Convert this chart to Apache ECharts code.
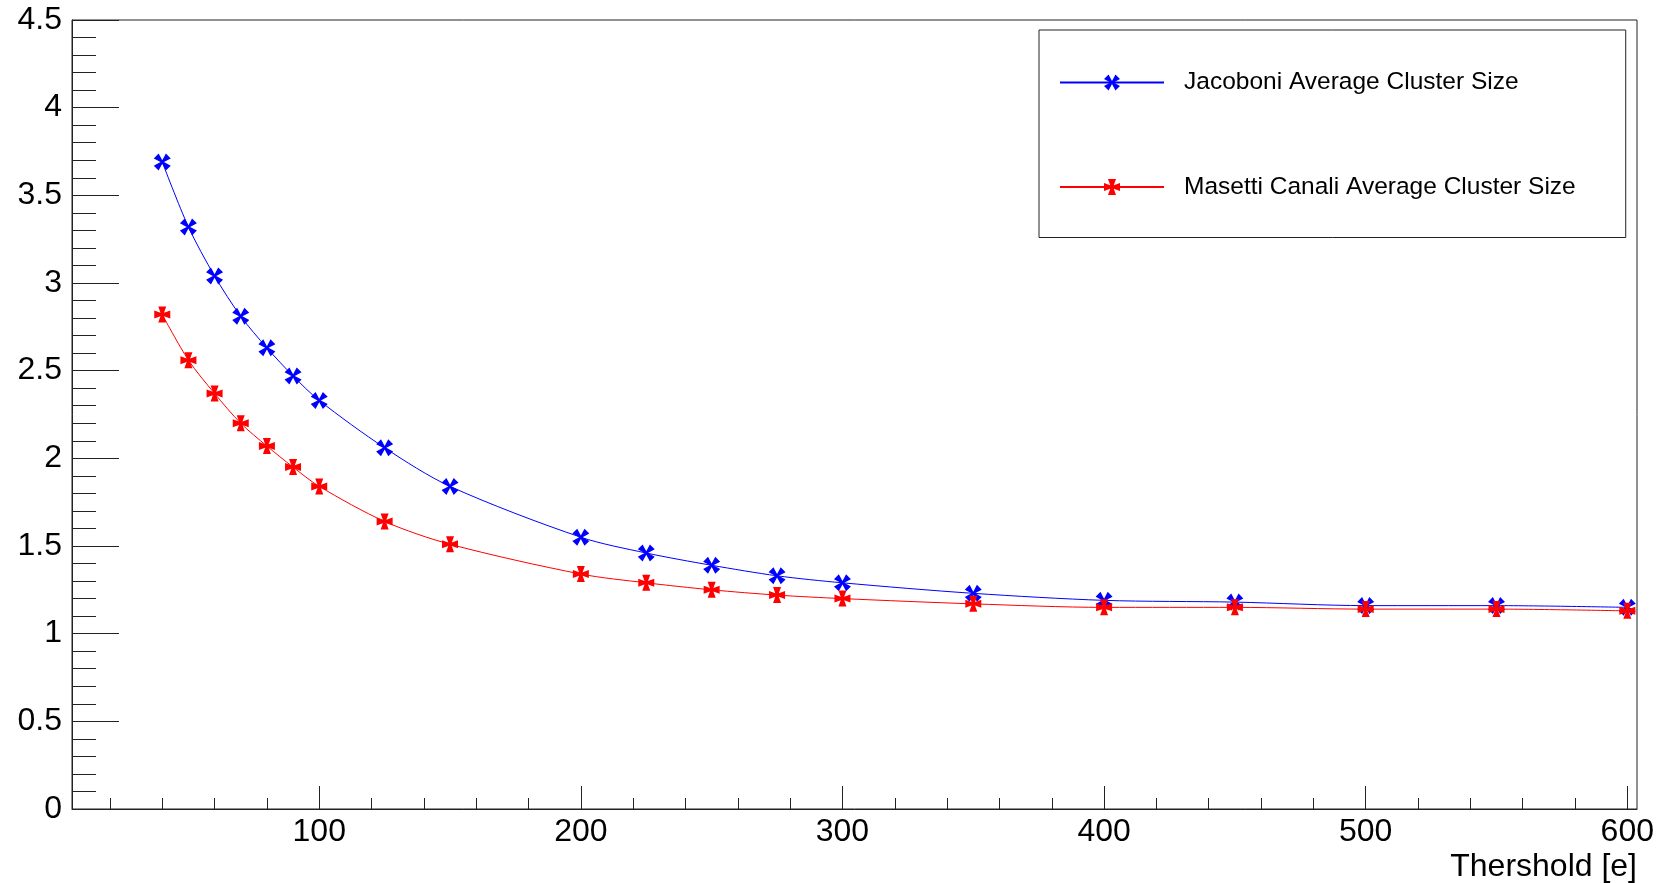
<!DOCTYPE html>
<html>
<head>
<meta charset="utf-8">
<script src="https://cdn.jsdelivr.net/npm/echarts@6/dist/echarts.min.js"></script>
<style>
  html, body { margin: 0; padding: 0; background: #fff; }
  #chart { width: 1672px; height: 883px; }
</style>
</head>
<body>
<div id="chart"></div>
<script>
// Threshold values [e]
const thresholds = [40, 50, 60, 70, 80, 90, 100, 125, 150, 200, 225, 250, 275, 300, 350, 400, 450, 500, 550, 600];
// Average cluster size per threshold
const jacoboni = [3.69, 3.32, 3.04, 2.81, 2.63, 2.47, 2.33, 2.06, 1.84, 1.55, 1.46, 1.39, 1.33, 1.29, 1.23, 1.19, 1.18, 1.16, 1.16, 1.15];
const masettiCanali = [2.82, 2.56, 2.37, 2.20, 2.07, 1.95, 1.84, 1.64, 1.51, 1.34, 1.29, 1.25, 1.22, 1.20, 1.17, 1.15, 1.15, 1.14, 1.14, 1.13];
// Axis tick values
const xMajorTicks = [100, 200, 300, 400, 500, 600];
const xMinorTicks = [20, 40, 60, 80, 120, 140, 160, 180, 220, 240, 260, 280, 320, 340, 360, 380, 420, 440, 460, 480, 520, 540, 560, 580];

const FONT = "'Liberation Sans', Arial, Helvetica, sans-serif";

// Cross outlines with flared arm ends: [end half-width, neck half-width]
function crossPoints(w, n) {
  return [[-w,-10],[w,-10],[n,-n],[10,-w],[10,w],[n,n],[w,10],[-w,10],[-n,n],[-10,w],[-10,-w],[-n,-n]];
}
function toPath(pts) {
  return 'path://' + pts.map((p, i) => (i ? 'L' : 'M') + p[0].toFixed(3) + ',' + p[1].toFixed(3)).join(' ') + ' Z';
}
const crossSymbol = toPath(crossPoints(5, 2.2));
// X variant: thinner cross turned by 45 degrees
const xSymbol = toPath(crossPoints(4, 1.4).map(([x, y]) => [(x - y) / Math.SQRT2, (x + y) / Math.SQRT2]));

const pairs = (ys) => thresholds.map((x, i) => [x, ys[i]]);

const chart = echarts.init(document.getElementById('chart'), null, { renderer: 'canvas' });
chart.setOption({
  animation: false,
  backgroundColor: '#fff',
  textStyle: { fontFamily: FONT },
  grid: {
    left: 72, top: 20, right: 35, bottom: 73,
    show: true, borderColor: '#222', borderWidth: 1, backgroundColor: 'transparent'
  },
  legend: {
    orient: 'vertical',
    left: 1039, top: 30,
    padding: [40, 50, 38, 20],
    itemWidth: 104, itemHeight: 20, itemGap: 79.5,
    borderColor: '#222', borderWidth: 1, backgroundColor: '#fff',
    textStyle: { fontFamily: FONT, fontSize: 24.5, color: '#000', padding: [0, 0, 0, 15] },
    data: ['Jacoboni Average Cluster Size', 'Masetti Canali Average Cluster Size']
  },
  xAxis: [
    {
      type: 'value', min: 5.5, max: 603.7, position: 'bottom',
      name: 'Thershold [e]', nameLocation: 'end', nameGap: 0,
      nameTextStyle: { fontFamily: FONT, fontSize: 32, color: '#000', align: 'right', verticalAlign: 'top', padding: [42, 0, 0, 0] },
      axisLine: { show: true, lineStyle: { color: '#222', width: 1 } },
      axisTick: { show: true, inside: true, length: 23, customValues: xMajorTicks, lineStyle: { color: '#222' } },
      axisLabel: { show: true, customValues: xMajorTicks, fontSize: 32, color: '#000', fontFamily: FONT, margin: 7 },
      splitLine: { show: false }
    },
    {
      type: 'value', min: 5.5, max: 603.7, position: 'bottom',
      axisLine: { show: false },
      axisTick: { show: true, inside: true, length: 11, customValues: xMinorTicks, lineStyle: { color: '#222' } },
      axisLabel: { show: false },
      splitLine: { show: false }
    }
  ],
  yAxis: {
    type: 'value', min: 0, max: 4.5, interval: 0.5,
    axisLine: { show: true, lineStyle: { color: '#222', width: 1 } },
    axisTick: { show: true, inside: true, length: 47, lineStyle: { color: '#222' } },
    minorTick: { show: true, splitNumber: 5, length: 24, lineStyle: { color: '#222' } },
    axisLabel: { fontSize: 32, color: '#000', fontFamily: FONT, margin: 10, padding: [4, 0, 0, 0] },
    splitLine: { show: false }
  },
  series: [
    {
      name: 'Jacoboni Average Cluster Size',
      type: 'line', xAxisIndex: 0,
      data: pairs(jacoboni),
      smooth: 0.3,
      symbol: xSymbol, symbolSize: 17,
      lineStyle: { color: '#0000ff', width: 1 },
      itemStyle: { color: '#0000ff' },
      color: '#0000ff'
    },
    {
      name: 'Masetti Canali Average Cluster Size',
      type: 'line', xAxisIndex: 0,
      data: pairs(masettiCanali),
      smooth: 0.3,
      symbol: crossSymbol, symbolSize: 16,
      lineStyle: { color: '#ff0000', width: 1 },
      itemStyle: { color: '#ff0000' },
      color: '#ff0000'
    }
  ]
});
</script>
</body>
</html>
